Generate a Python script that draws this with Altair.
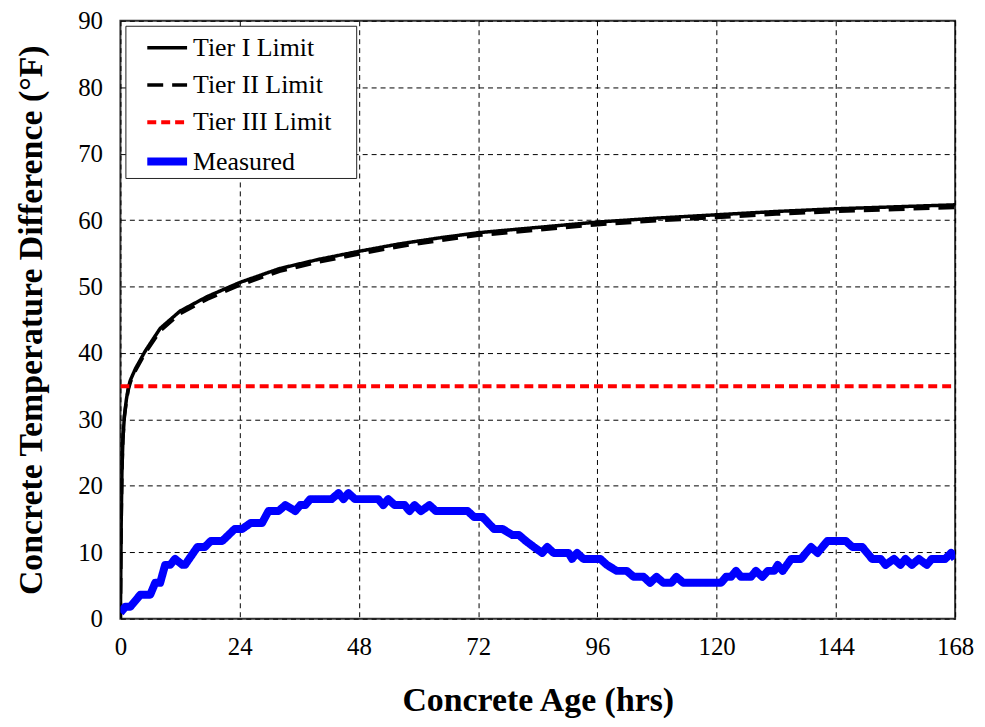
import altair as alt
import pandas as pd

# ---- data ----
limit_hours = [0, 0.05, 0.15, 0.3, 0.5, 0.8, 1.2, 1.6, 2, 3, 5, 8, 12, 17.5, 24, 32, 40,
               48, 56, 64, 72, 84, 96, 108, 120, 132, 144, 156, 168]
tier1_values = [0, 5, 14, 22, 27, 30.5, 33, 34.8, 35.9, 37.6, 40.3, 43.7, 46.3, 48.5, 50.6,
                52.7, 54.1, 55.3, 56.4, 57.3, 58.1, 58.9, 59.7, 60.3, 60.8, 61.3, 61.7, 62.0, 62.3]
tier2_values = [0, 5, 14, 22, 27, 30.4, 32.8, 34.5, 35.6, 37.3, 40.0, 43.3, 45.9, 48.1, 50.2,
                52.3, 53.7, 54.9, 56.0, 56.9, 57.7, 58.5, 59.3, 59.9, 60.4, 60.9, 61.3, 61.6, 61.9]
tier3_hours = [0, 168]
tier3_values = [35, 35]

measured_hours = [0, 1.0, 2.0, 4.0, 6.0, 7.0, 8.0, 9.0, 10.0, 11.0, 12.5, 13.0, 15.5, 17.0,
                  18.2, 20.5, 23.0, 24.5, 26.2, 28.5, 29.8, 31.8, 33.2, 35.2, 36.2, 37.2, 38.2,
                  42.5, 43.9, 44.9, 45.9, 47.2, 51.9, 52.9, 53.9, 55.2, 57.2, 58.2, 59.2, 60.5,
                  62.2, 63.5, 69.9, 71.2, 72.9, 75.2, 76.9, 78.9, 80.2, 81.6, 83.2, 84.9, 85.9,
                  87.2, 90.2, 90.9, 91.9, 93.2, 96.6, 97.9, 99.9, 101.9, 103.3, 105.3, 106.6,
                  107.9, 109.3, 110.9, 111.9, 113.3, 120.9, 121.9, 122.9, 123.9, 124.9, 126.9,
                  127.9, 129.2, 130.3, 131.6, 132.3, 133.3, 135.0, 137.0, 139.0, 140.3, 142.3,
                  146.0, 147.3, 149.3, 151.3, 153.0, 154.0, 155.7, 157.0, 158.0, 159.3, 160.7,
                  162.3, 163.3, 166.0, 167.2, 168.0]
measured_values = [0.9, 1.8, 1.8, 3.6, 3.6, 5.4, 5.4, 8.1, 8.1, 9.0, 8.1, 8.1, 10.8, 10.8,
                   11.7, 11.7, 13.5, 13.5, 14.4, 14.4, 16.2, 16.2, 17.1, 16.2, 17.1, 17.1, 18.0,
                   18.0, 18.9, 18.0, 18.9, 18.0, 18.0, 17.1, 18.0, 17.1, 17.1, 16.2, 17.1, 16.2,
                   17.1, 16.2, 16.2, 15.3, 15.3, 13.5, 13.5, 12.6, 12.6, 11.7, 10.8, 9.9, 10.8,
                   9.9, 9.9, 9.0, 9.9, 9.0, 9.0, 8.1, 7.2, 7.2, 6.3, 6.3, 5.4,
                   6.3, 5.4, 5.4, 6.3, 5.4, 5.4, 6.3, 6.3, 7.2, 6.3, 6.3,
                   7.2, 6.3, 7.2, 7.2, 8.1, 7.2, 9.0, 9.0, 10.8, 9.9, 11.7,
                   11.7, 10.8, 10.8, 9.0, 9.0, 8.1, 9.0, 8.1, 9.0, 8.1, 9.0,
                   8.1, 9.0, 9.0, 9.9, 9.0]

series_names = ["Tier I Limit", "Tier II Limit", "Tier III Limit", "Measured"]
series_colors = ["#000000", "#000000", "#FF0000", "#0000FF"]

x_ticks = [0, 24, 48, 72, 96, 120, 144, 168]
y_ticks = [0, 10, 20, 30, 40, 50, 60, 70, 80, 90]

# ---- build table ----
rows = []
for h, v in zip(limit_hours, tier1_values):
    rows.append({"hours": h, "value": v, "series": series_names[0]})
for h, v in zip(limit_hours, tier2_values):
    rows.append({"hours": h, "value": v, "series": series_names[1]})
for h, v in zip(tier3_hours, tier3_values):
    rows.append({"hours": h, "value": v, "series": series_names[2]})
for h, v in zip(measured_hours, measured_values):
    rows.append({"hours": h, "value": v, "series": series_names[3]})
df = pd.DataFrame(rows)

FONT = "Liberation Serif"

base = alt.Chart(df).mark_line(strokeJoin="round", strokeCap="butt", clip=True).encode(
    x=alt.X("hours:Q",
            scale=alt.Scale(domain=[0, 168], nice=False, zero=False),
            axis=alt.Axis(values=x_ticks, title="Concrete Age (hrs)", labelPadding=16,
                          titlePadding=24, labelFlush=False)),
    y=alt.Y("value:Q",
            scale=alt.Scale(domain=[0, 90], nice=False),
            axis=alt.Axis(values=y_ticks, title="Concrete Temperature Difference (°F)",
                          labelPadding=18, titlePadding=29)),
    color=alt.Color("series:N",
                    scale=alt.Scale(domain=series_names, range=series_colors),
                    legend=alt.Legend(title=".", titleOrient="right", titleFontSize=2,
                                      titleOpacity=0, titlePadding=24,
                                      orient="none", legendX=5, legendY=5,
                                      symbolType="stroke", symbolSize=1600,
                                      labelFont=FONT, labelFontSize=26, labelColor="black",
                                      fillColor="white", strokeColor="#222222",
                                      padding=0, symbolOffset=18, rowPadding=2.5,
                                      labelOffset=2)),
    strokeDash=alt.StrokeDash("series:N",
                              scale=alt.Scale(domain=series_names,
                                              range=[[1, 0], [16, 9], [9, 5], [1, 0]]),
                              legend=None),
    strokeWidth=alt.StrokeWidth("series:N",
                                scale=alt.Scale(type="ordinal", domain=series_names,
                                                range=[3.5, 3.5, 4, 8]),
                                legend=None),
)

layers = [base.transform_filter(alt.datum.series == s) for s in series_names]

chart = alt.layer(*layers).properties(
    width=839, height=601,
    autosize=alt.AutoSizeParams(type="none"),
    padding={"left": 113, "top": 11, "right": 22, "bottom": 106}
).configure_view(
    stroke="#333333", strokeWidth=2
).configure_axis(
    labelFont=FONT, labelFontSize=25, labelColor="black",
    titleFont=FONT, titleFontSize=34, titleFontWeight="bold", titleColor="black",
    grid=True, gridColor="black", gridDash=[5, 4], gridWidth=1, gridOpacity=1,
    ticks=False, domain=False
)

chart.save("out.html", embed_options={"renderer": "svg", "actions": False})
